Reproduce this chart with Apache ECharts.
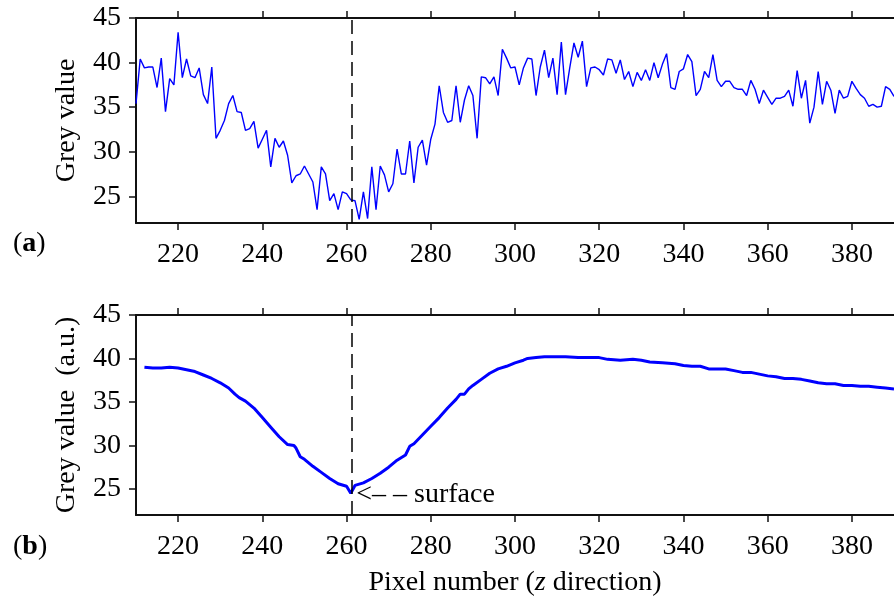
<!DOCTYPE html>
<html>
<head>
<meta charset="utf-8">
<script src="https://cdn.jsdelivr.net/npm/echarts@6/dist/echarts.min.js"></script>
<style>html,body{margin:0;padding:0;background:#fff}#c{width:894px;height:598px}</style>
</head>
<body>
<div id="c"></div>
<script>
// ---------- data ----------
const xTicks = [220, 240, 260, 280, 300, 320, 340, 360, 380];
const yTicks = [25, 30, 35, 40, 45];
const X_MIN = 210, X_MAX = 390, Y_MIN = 22, Y_MAX = 45;
const SURFACE_X = 261.3;

// (a) raw grey value, one sample per pixel starting at pixel 210
const RAW_START = 210;
const rawGrey = [
  35.4, 40.4, 39.4, 39.5, 39.5, 37.2, 40.5, 34.5, 38.2, 37.5,
  43.4, 38.3, 40.4, 38.5, 38.3, 39.4, 36.4, 35.4, 39.5, 31.5,
  32.4, 33.5, 35.4, 36.3, 34.5, 34.4, 32.4, 32.6, 33.4, 30.4,
  31.4, 32.4, 28.3, 31.5, 30.5, 31.2, 29.6, 26.5, 27.3, 27.5,
  28.4, 27.5, 26.6, 23.5, 28.3, 27.5, 24.5, 25.3, 23.5, 25.5,
  25.3, 24.6, 24.5, 22.4, 25.5, 22.5, 28.3, 23.5, 28.4, 27.4,
  25.5, 26.4, 30.3, 27.5, 27.5, 31.2, 26.5, 30.5, 31.3, 28.5,
  31.4, 33.1, 37.4, 34.4, 33.3, 33.5, 37.4, 33.3, 35.8, 37.4,
  36.3, 31.5, 38.4, 38.3, 37.6, 38.4, 36.3, 41.5, 40.5, 39.4,
  39.5, 37.5, 39.4, 40.5, 40.4, 36.3, 39.5, 41.4, 38.3, 40.5,
  36.4, 42.3, 36.4, 39.4, 42.2, 40.6, 42.4, 37.3, 39.4, 39.5,
  39.2, 38.6, 40.4, 40.3, 38.8, 40.3, 38.1, 39.0, 37.3, 38.9,
  38.0, 39.2, 38.0, 40.0, 38.3, 39.8, 41.0, 37.2, 37.0, 39.0,
  39.3, 40.9, 40.1, 36.3, 37.0, 39.0, 38.3, 40.9, 38.0, 37.3,
  37.9, 37.9, 37.2, 37.0, 37.0, 36.3, 38.0, 37.0, 35.4, 36.9,
  36.1, 35.3, 36.0, 36.0, 36.2, 36.9, 35.1, 39.1, 36.0, 38.0,
  33.2, 35.0, 39.0, 35.3, 37.9, 36.9, 34.3, 36.9, 36.0, 36.2,
  37.9, 37.1, 36.4, 36.0, 35.1, 35.3, 35.0, 35.1, 37.3, 37.0,
  36.2
];

// (b) smoothed grey value
const smoothX = [212, 214, 216, 218, 220, 222, 224, 226, 228, 230, 232, 233.5, 234.5, 236, 238, 240, 242, 244, 246, 247.5, 248, 249, 250, 252, 254, 256, 258, 260, 261, 262, 264, 266, 268, 270, 272, 274, 275, 276, 278, 280, 282, 284, 286, 287, 288, 289, 290, 292, 294, 296, 298, 300, 302, 303, 305, 307, 310, 312, 315, 318, 320, 322, 325, 328, 330, 332, 335, 338, 340, 342, 344, 346, 348, 350, 352, 354, 356, 358, 360, 362, 364, 366, 368, 370, 372, 374, 376, 378, 380, 382, 384, 386, 388, 390];
const smoothY = [39.0, 38.9, 38.9, 39.0, 38.9, 38.7, 38.5, 38.1, 37.7, 37.2, 36.6, 35.9, 35.5, 35.1, 34.3, 33.2, 32.1, 31.0, 30.1, 30.0, 29.7, 28.7, 28.4, 27.6, 26.9, 26.2, 25.6, 25.3, 24.5, 25.4, 25.7, 26.2, 26.8, 27.5, 28.3, 28.9, 29.9, 30.2, 31.2, 32.2, 33.2, 34.3, 35.3, 35.9, 35.9, 36.5, 36.9, 37.6, 38.3, 38.8, 39.1, 39.5, 39.8, 40.0, 40.1, 40.2, 40.2, 40.2, 40.1, 40.1, 40.1, 39.9, 39.8, 39.9, 39.8, 39.6, 39.5, 39.4, 39.2, 39.1, 39.1, 38.8, 38.8, 38.8, 38.6, 38.4, 38.4, 38.2, 38.0, 37.9, 37.7, 37.7, 37.6, 37.4, 37.2, 37.1, 37.1, 36.9, 36.9, 36.8, 36.8, 36.7, 36.6, 36.5];

// ---------- build ----------
const FONT = 'Liberation Serif';
const rawData = rawGrey.map((v, i) => [RAW_START + i, v]);
const smoothData = smoothX.map((x, i) => [x, smoothY[i]]);
let minIdx = 0;
smoothY.forEach((v, i) => { if (v < smoothY[minIdx]) minIdx = i; });

const axisLine = { show: true, onZero: false, lineStyle: { color: '#111', width: 2 } };
const tick = (vals) => ({ show: true, inside: false, length: 7, customValues: vals, lineStyle: { color: '#111', width: 1.5 } });
const lab = (vals, margin) => ({ show: true, customValues: vals, margin: margin, color: '#000', fontFamily: FONT, fontSize: 28 });

function xAxes(gi, withName) {
  const bottom = {
    type: 'value', gridIndex: gi, position: 'bottom', min: X_MIN, max: X_MAX,
    axisLine: axisLine, axisTick: tick(xTicks), axisLabel: lab(xTicks, 18), splitLine: { show: false }
  };
  if (withName) {
    bottom.name = '{n|Pixel number (}{i|z}{n| direction)}';
    bottom.nameLocation = 'middle';
    bottom.nameGap = 54;
    bottom.nameTextStyle = {
      rich: {
        n: { fontFamily: FONT, fontSize: 28, color: '#000' },
        i: { fontFamily: FONT, fontSize: 28, color: '#000', fontStyle: 'italic' }
      }
    };
  }
  const top = {
    type: 'value', gridIndex: gi, position: 'top', min: X_MIN, max: X_MAX,
    axisLine: axisLine, axisTick: tick(xTicks), axisLabel: { show: false }, splitLine: { show: false }
  };
  return [bottom, top];
}
function yAxis(gi, name) {
  return {
    type: 'value', gridIndex: gi, position: 'left', min: Y_MIN, max: Y_MAX,
    axisLine: axisLine, axisTick: tick(yTicks), axisLabel: lab(yTicks, 15), splitLine: { show: false },
    name: name, nameLocation: 'middle', nameGap: 55, nameRotate: 90,
    nameTextStyle: { fontFamily: FONT, fontSize: 28, color: '#000' }
  };
}
const dashLine = {
  silent: true, symbol: 'none', label: { show: false },
  lineStyle: { color: '#000', type: [14, 7], width: 1.5 },
  data: [{ xAxis: SURFACE_X }]
};

const option = {
  animation: false,
  backgroundColor: '#fff',
  title: [
    { text: '({b|a})', left: 8, top: 225, textStyle: { fontFamily: FONT, fontSize: 28, fontWeight: 'normal', color: '#000', rich: { b: { fontFamily: FONT, fontSize: 28, fontWeight: 'bold', color: '#000' } } } },
    { text: '({b|b})', left: 8, top: 528, textStyle: { fontFamily: FONT, fontSize: 28, fontWeight: 'normal', color: '#000', rich: { b: { fontFamily: FONT, fontSize: 28, fontWeight: 'bold', color: '#000' } } } }
  ],
  grid: [
    { left: 136, right: 0, top: 18, height: 205 },
    { left: 136, right: 0, top: 315, height: 205 }
  ],
  xAxis: [...xAxes(0, false), ...xAxes(1, true)],
  yAxis: [yAxis(0, 'Grey value'), yAxis(1, 'Grey value  (a.u.)')],
  series: [
    {
      type: 'line', xAxisIndex: 0, yAxisIndex: 0, data: rawData, showSymbol: false,
      lineStyle: { color: '#0000ff', width: 1.4 }, markLine: dashLine
    },
    {
      type: 'line', xAxisIndex: 2, yAxisIndex: 1, data: smoothData, showSymbol: false,
      lineStyle: { color: '#0000ff', width: 3 }, markLine: dashLine,
      markPoint: {
        silent: true, symbol: 'circle', symbolSize: 1, itemStyle: { color: 'rgba(0,0,0,0)' },
        label: { show: true, position: 'right', distance: 5, offset: [0, 1], color: '#000', fontFamily: FONT, fontSize: 28, formatter: '<– – surface' },
        data: [{ coord: smoothData[minIdx] }]
      }
    }
  ]
};
const chart = echarts.init(document.getElementById('c'), null, { renderer: 'canvas' });
chart.setOption(option);
</script>
</body>
</html>
